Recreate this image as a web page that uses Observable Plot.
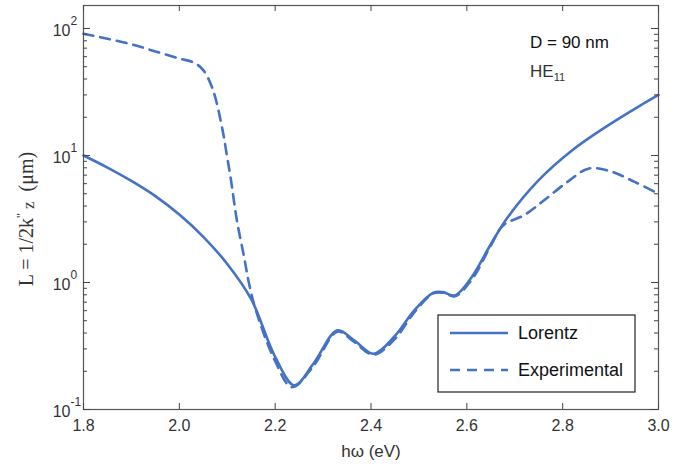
<!DOCTYPE html>
<html><head><meta charset="utf-8">
<script src="https://cdn.jsdelivr.net/npm/d3@7"></script>
<script src="https://cdn.jsdelivr.net/npm/@observablehq/plot@0.6"></script>
<style>body{margin:0;background:#fff}</style>
</head><body><div id="chart"></div>
<script>
// ---- data ----
const energyLorentz = [1.80,1.85,1.90,1.95,2.00,2.05,2.10,2.15,2.20,2.24,2.28,2.33,2.365,2.405,2.45,2.49,2.53,2.55,2.575,2.61,2.65,2.685,2.75,2.82,2.89,2.96,3.00];
const lorentz       = [10.0,8.04,6.31,4.79,3.43,2.29,1.40,0.74,0.26,0.155,0.23,0.42,0.35,0.275,0.38,0.60,0.83,0.84,0.79,1.10,2.0,3.25,6.4,11,16.8,24.5,30];
const energyExp = [1.80,1.85,1.90,1.95,2.00,2.03,2.05,2.07,2.09,2.10,2.107,2.12,2.135,2.145,2.16,2.20,2.235,2.28,2.33,2.365,2.405,2.45,2.49,2.53,2.55,2.575,2.61,2.65,2.675,2.72,2.76,2.81,2.855,2.90,2.95,3.00];
const experimental = [91,83,75,66,58,54,47,33,16,9.6,6.7,3.1,1.6,1.0,0.6,0.24,0.15,0.22,0.41,0.34,0.27,0.36,0.58,0.82,0.83,0.78,1.05,1.95,2.8,3.4,4.4,6.2,7.9,7.5,6.2,5.0];
const seriesNames = ["Lorentz", "Experimental"];
const xTicks = [1.8, 2.0, 2.2, 2.4, 2.6, 2.8, 3.0];
const yExponents = [-1, 0, 1, 2];
const yMinor = [2,3,4,5,6,7,8,9,20,30,40,50,60,70,80,90,0.2,0.3,0.4,0.5,0.6,0.7,0.8,0.9];
const xLabel = "hω (eV)";
const annotationLine1 = "D = 90 nm";
const modeName = ["HE", "11"];

const blue = "#4472c4";
const W = 684, H = 464, mL = 83, mR = 26, mT = 5, mB = 55;
const fw = W - mL - mR, fh = H - mT - mB;
const lorentzRows = energyLorentz.map((e, i) => ({e, v: lorentz[i]}));
const expRows = energyExp.map((e, i) => ({e, v: experimental[i]}));
const yMajor = yExponents.map(k => Math.pow(10, k));
const fmtExp = k => (k < 0 ? "-" : "") + Math.abs(k);
const sans = "Liberation Sans, Arial, sans-serif";

const ns = "http://www.w3.org/2000/svg";
function el(name, attrs, text) {
  const n = document.createElementNS(ns, name);
  for (const k in attrs) n.setAttribute(k, attrs[k]);
  if (text != null) n.textContent = text;
  return n;
}

function overlay() {
  const g = el("g", {});
  // y axis label (serif, rotated)
  const t = el("text", {transform: "translate(33,219) rotate(-90)", "text-anchor": "middle",
    "font-family": "Liberation Serif, Times New Roman, serif", "font-size": 20, fill: "#333"});
  t.appendChild(el("tspan", {}, "L = 1/2k"));
  t.appendChild(el("tspan", {dy: -8, "font-size": 13}, "''"));
  t.appendChild(el("tspan", {dy: 9, "font-size": 17}, " z"));
  t.appendChild(el("tspan", {dy: -1}, "\u2002(\u03bcm)"));
  g.appendChild(t);
  // annotation
  g.appendChild(el("text", {x: 530, y: 48, "text-anchor": "start", "font-size": 17, fill: "#111", "font-family": sans}, annotationLine1));
  const he = el("text", {x: 530, y: 77, "text-anchor": "start", "font-size": 17, fill: "#333", "font-family": sans});
  he.appendChild(el("tspan", {}, modeName[0]));
  he.appendChild(el("tspan", {dy: 4, "font-size": 11}, modeName[1]));
  g.appendChild(he);
  // legend
  const lx = 438, ly = 315, lw = 197, lh = 77;
  g.appendChild(el("rect", {x: lx, y: ly, width: lw, height: lh, fill: "white", stroke: "#222", "stroke-width": 1.2}));
  const rowsY = [333, 370];
  seriesNames.forEach((name, i) => {
    g.appendChild(el("line", {x1: lx + 12, x2: lx + 70, y1: rowsY[i], y2: rowsY[i], stroke: blue,
      "stroke-width": 2.6, "stroke-dasharray": i ? "10,7" : "none"}));
    g.appendChild(el("text", {x: lx + 80, y: rowsY[i], dy: "0.35em", "text-anchor": "start", "font-size": 18, fill: "#111", "font-family": sans}, name));
  });
  return g;
}

const tickStyle = {stroke: "#444", strokeWidth: 1};
const chart = Plot.plot({
  width: W, height: H,
  marginLeft: mL, marginRight: mR, marginTop: mT, marginBottom: mB,
  x: {domain: [1.8, 3.0], axis: null},
  y: {type: "log", domain: [0.1, Math.pow(10, 2.181)], axis: null},
  style: {fontFamily: sans, background: "white", color: "#222"},
  marks: [
    Plot.line(lorentzRows, {x: "e", y: "v", stroke: blue, strokeWidth: 2.6, curve: "catmull-rom"}),
    Plot.line(expRows, {x: "e", y: "v", stroke: blue, strokeWidth: 2.6, strokeDasharray: "10,7", curve: "catmull-rom"}),
    Plot.frame({stroke: "#555", strokeWidth: 1.2}),
    // inward ticks, bottom & top
    Plot.tickX(xTicks, {x: d => d, insetTop: fh - 6, ...tickStyle}),
    Plot.tickX(xTicks, {x: d => d, insetBottom: fh - 6, ...tickStyle}),
    // inward ticks, left & right
    Plot.tickY(yMajor, {y: d => d, insetRight: fw - 7, ...tickStyle}),
    Plot.tickY(yMinor, {y: d => d, insetRight: fw - 4, ...tickStyle}),
    Plot.tickY(yMajor, {y: d => d, insetLeft: fw - 7, ...tickStyle}),
    Plot.tickY(yMinor, {y: d => d, insetLeft: fw - 4, ...tickStyle}),
    Plot.text(xTicks, {x: d => d, frameAnchor: "bottom", dy: 16, lineAnchor: "middle", text: d => d.toFixed(1), fontSize: 16, fill: "#333"}),
    Plot.text([xLabel], {frameAnchor: "bottom", dy: 42, lineAnchor: "middle", text: d => d, fontSize: 17, fill: "#333"}),
    Plot.text(yExponents, {y: k => Math.pow(10, k), frameAnchor: "left", dx: -13, dy: 2, textAnchor: "end", lineAnchor: "middle", text: () => "10", fontSize: 16, fill: "#333"}),
    Plot.text(yExponents, {y: k => Math.pow(10, k), frameAnchor: "left", dx: -13, dy: -7, textAnchor: "start", lineAnchor: "middle", text: fmtExp, fontSize: 12, fill: "#333"}),
    overlay
  ]
});
document.getElementById("chart").appendChild(chart);
</script>
</body></html>
